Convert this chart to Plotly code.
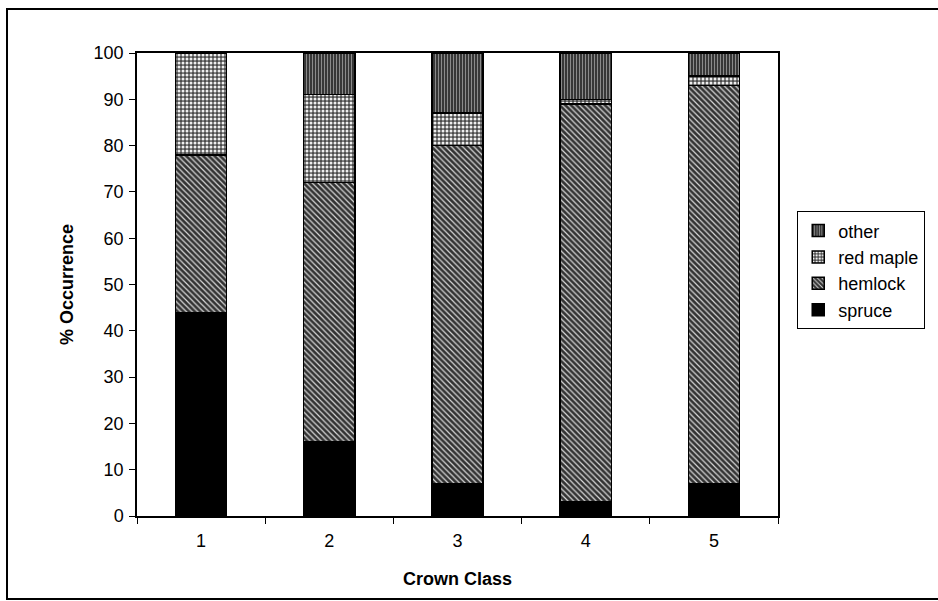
import plotly.graph_objects as go

categories = ["1", "2", "3", "4", "5"]
spruce = [44, 16, 7, 3, 7]
hemlock = [34, 56, 73, 86, 86]
red_maple = [22, 19, 7, 1, 2]
other = [0, 9, 13, 10, 5]

FONT = "Liberation Sans, Arial, sans-serif"

fig = go.Figure()
line = dict(color="black", width=1.5)
fig.add_bar(name="spruce", x=categories, y=spruce,
            marker=dict(color="black", line=line))
fig.add_bar(name="hemlock", x=categories, y=hemlock,
            marker=dict(color="#333333", line=line,
                        pattern=dict(shape="\\", fgcolor="#d8d8d8", bgcolor="#333333",
                                     size=4, solidity=0.3, fillmode="replace")))
fig.add_bar(name="red maple", x=categories, y=red_maple,
            marker=dict(color="#4a4a4a", line=line,
                        pattern=dict(shape=".", fgcolor="#eeeeee", bgcolor="#4a4a4a",
                                     size=4, solidity=0.45, fillmode="replace")))
fig.add_bar(name="other", x=categories, y=other,
            marker=dict(color="#444444", line=line,
                        pattern=dict(shape="|", fgcolor="#8a8a8a", bgcolor="#2e2e2e",
                                     size=3, solidity=0.4, fillmode="replace")))

fig.update_layout(
    width=938, height=601,
    barmode="stack", bargap=0.6,
    plot_bgcolor="white", paper_bgcolor="white",
    margin=dict(l=137, r=160, t=53, b=85),
    font=dict(family=FONT, size=18, color="black"),
    showlegend=True,
    legend=dict(x=1.03, y=0.658, xanchor="left", yanchor="top",
                traceorder="reversed", bordercolor="black", borderwidth=1,
                bgcolor="white", font=dict(size=18), itemwidth=30),
    xaxis=dict(type="category", showline=True, linecolor="black", linewidth=1.5,
               mirror=True, ticks="outside", ticklen=6, tickson="boundaries",
               tickcolor="black", showgrid=False, ticklabelstandoff=8,
               title=dict(text="<b>Crown Class</b>", font=dict(size=18), standoff=22)),
    yaxis=dict(range=[0, 100], dtick=10, showline=True, linecolor="black", linewidth=1.5,
               mirror=True, ticks="outside", ticklen=6, tickcolor="black",
               showgrid=False, zeroline=False, ticklabelstandoff=2,
               title=dict(text="<b>% Occurrence</b>", font=dict(size=18), standoff=15)),
    shapes=[dict(type="rect", xref="paper", yref="paper",
                 x0=-0.2028, x1=1.4, y0=-0.179, y1=1.095,
                 line=dict(color="black", width=2), fillcolor="rgba(0,0,0,0)")],
)

fig.write_html("out.html")
